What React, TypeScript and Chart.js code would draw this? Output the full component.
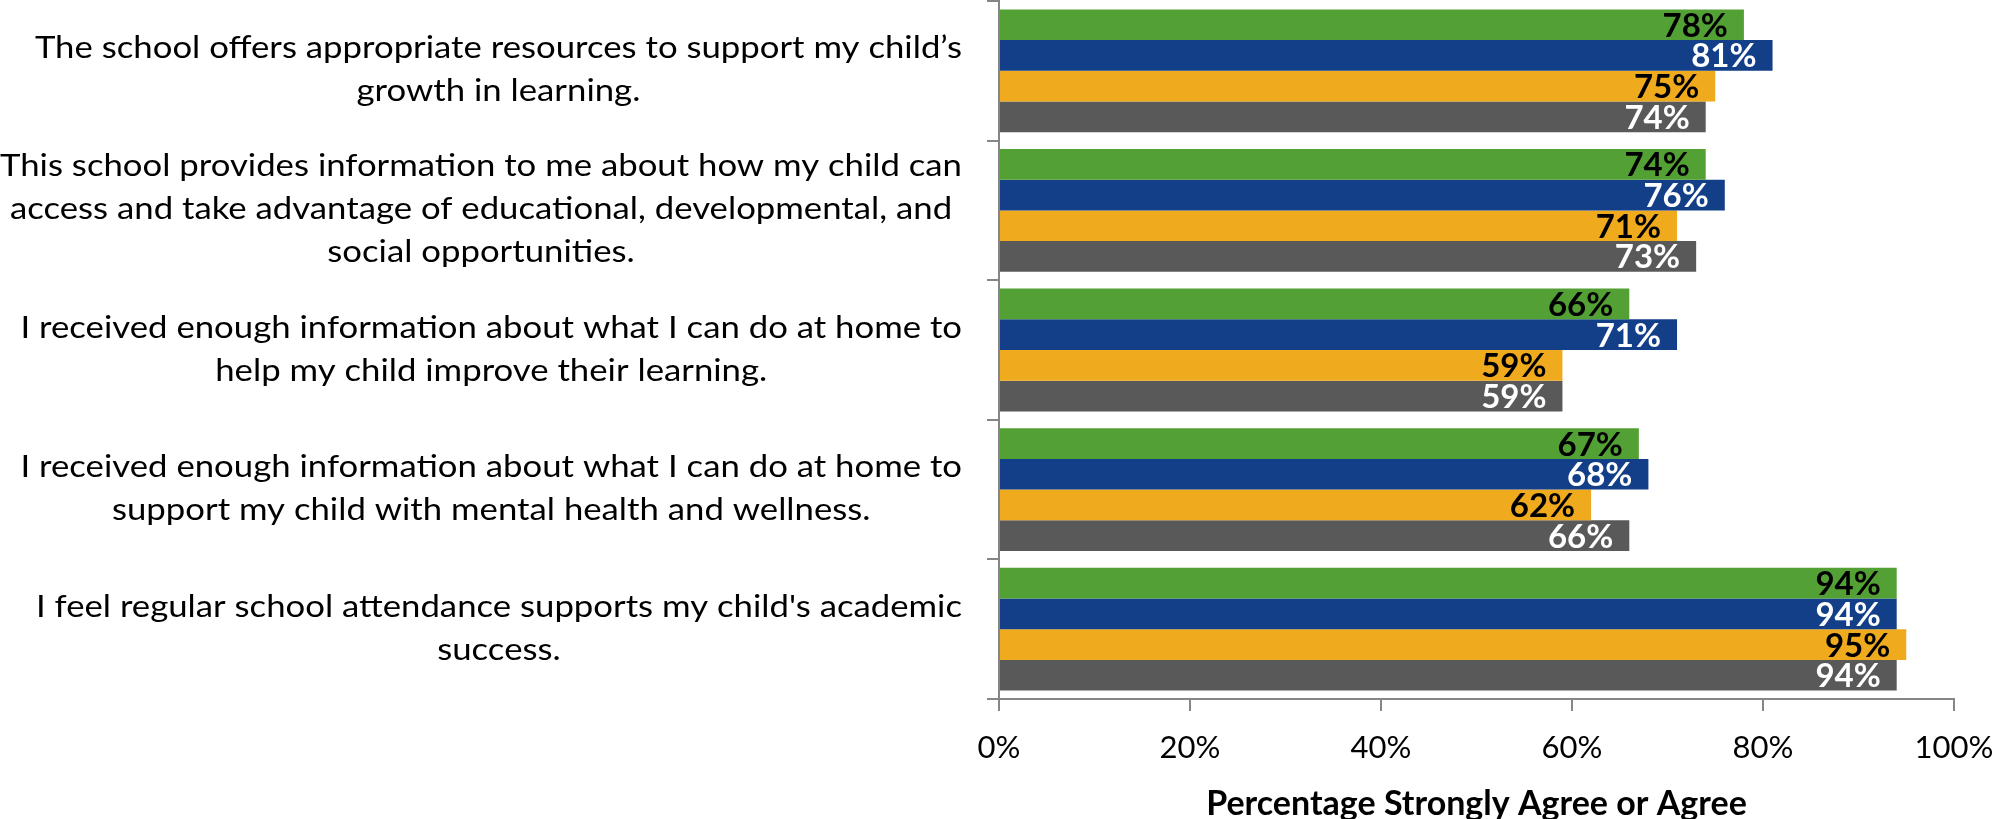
import React, { useEffect, useRef } from "react";
import { Chart, registerables } from "chart.js";

Chart.register(...registerables);

// ---- Data ----
const categories: string[][] = [
  ["The school offers appropriate resources to support my child’s", "growth in learning."],
  [
    "This school provides information to me about how my child can",
    "access and take advantage of educational, developmental, and",
    "social opportunities.",
  ],
  ["I received enough information about what I can do at home to", "help my child improve their learning."],
  ["I received enough information about what I can do at home to", "support my child with mental health and wellness."],
  ["I feel regular school attendance supports my child's academic", "success."],
];

const seriesGreen = [78, 74, 66, 67, 94];
const seriesBlue = [81, 76, 71, 68, 94];
const seriesOrange = [75, 71, 59, 62, 95];
const seriesGray = [74, 73, 59, 66, 94];

const xTickStep = 20;
const xMin = 0;
const xMax = 100;
const xTitle = "Percentage Strongly Agree or Agree";

// ---- Styles ----
const FONT = "Lato, 'Open Sans', sans-serif";
const AXIS_COLOR = "#868686";
const colors = ["#53A035", "#123F88", "#F0AA1E", "#595959"];
const labelColors = ["#000000", "#ffffff", "#000000", "#ffffff"];

const categoryLabelPlugin = {
  id: "categoryLabels",
  afterDraw(chart: any) {
    const ctx = chart.ctx;
    const yScale = chart.scales.y;
    const rightEdge = chart.chartArea.left - 37;
    const lineHeight = 43;
    ctx.save();
    ctx.font = `31px ${FONT}`;
    ctx.fillStyle = "#000";
    ctx.textBaseline = "alphabetic";
    ctx.textAlign = "center";
    let widest = 0;
    categories.forEach((lines) => lines.forEach((l) => (widest = Math.max(widest, ctx.measureText(l).width))));
    const sx = rightEdge / widest;
    categories.forEach((lines, i) => {
      const cy = yScale.getPixelForValue(i);
      let maxW = 0;
      lines.forEach((l) => (maxW = Math.max(maxW, ctx.measureText(l).width * sx)));
      const cx = rightEdge - maxW / 2;
      const n = lines.length;
      lines.forEach((l, k) => {
        const by = cy + (k - (n - 1) / 2) * lineHeight + 9;
        ctx.save();
        ctx.translate(cx, by);
        ctx.scale(sx, 1);
        ctx.fillText(l, 0, 0);
        ctx.restore();
      });
    });
    ctx.restore();
  },
};

const valueLabelPlugin = {
  id: "valueLabels",
  afterDatasetsDraw(chart: any) {
    const ctx = chart.ctx;
    ctx.save();
    ctx.font = `bold 33px ${FONT}`;
    ctx.textAlign = "right";
    ctx.textBaseline = "alphabetic";
    chart.data.datasets.forEach((ds: any, di: number) => {
      const meta = chart.getDatasetMeta(di);
      ctx.fillStyle = labelColors[di];
      meta.data.forEach((bar: any, j: number) => {
        const v = ds.data[j];
        ctx.fillText(`${v}%`, bar.x - 16, bar.y + 12);
      });
    });
    ctx.restore();
  },
};

export default function App() {
  const canvasRef = useRef<HTMLCanvasElement | null>(null);

  useEffect(() => {
    if (!canvasRef.current) return;
    const chart = new Chart(canvasRef.current, {
      type: "bar",
      data: {
        labels: categories.map((c) => c.join(" ")),
        datasets: [
          { label: "Series 1", data: seriesGreen, backgroundColor: colors[0] },
          { label: "Series 2", data: seriesBlue, backgroundColor: colors[1] },
          { label: "Series 3", data: seriesOrange, backgroundColor: colors[2] },
          { label: "Series 4", data: seriesGray, backgroundColor: colors[3] },
        ],
      },
      options: {
        indexAxis: "y",
        responsive: false,
        animation: false,
        events: [],
        layout: { padding: { top: 1, right: 43, left: 0, bottom: 0 } },
        datasets: { bar: { categoryPercentage: 0.88, barPercentage: 1 } },
        plugins: { legend: { display: false }, tooltip: { enabled: false } },
        scales: {
          x: {
            min: xMin,
            max: xMax,
            ticks: {
              stepSize: xTickStep,
              callback: (v: any) => `${v}%`,
              color: "#000",
              font: { family: FONT, size: 31 },
              padding: 18,
            },
            grid: { drawOnChartArea: false, drawTicks: true, tickLength: 12, color: AXIS_COLOR, lineWidth: 2 },
            border: { color: AXIS_COLOR, width: 2 },
            title: {
              display: true,
              text: xTitle,
              color: "#000",
              font: { family: FONT, size: 34, weight: "bold" },
              padding: { top: 0, bottom: -5 },
            },
            afterFit: (s: any) => {
              s.height = 120;
              s.paddingLeft = 0;
              s.paddingRight = 0;
            },
          },
          y: {
            ticks: { display: false },
            grid: { offset: true, drawOnChartArea: false, drawTicks: true, tickLength: 12, color: AXIS_COLOR, lineWidth: 2 },
            border: { color: AXIS_COLOR, width: 2 },
            afterFit: (s: any) => {
              s.width = 999;
              s.paddingTop = 0;
              s.paddingBottom = 0;
            },
          },
        },
      } as any,
      plugins: [categoryLabelPlugin, valueLabelPlugin],
    });
    return () => chart.destroy();
  }, []);

  return (
    <div style={{ position: "fixed", left: 0, top: 0, width: 1997, height: 819, background: "#fff" }}>
      <canvas ref={canvasRef} width={1997} height={819} style={{ display: "block" }} />
    </div>
  );
}
